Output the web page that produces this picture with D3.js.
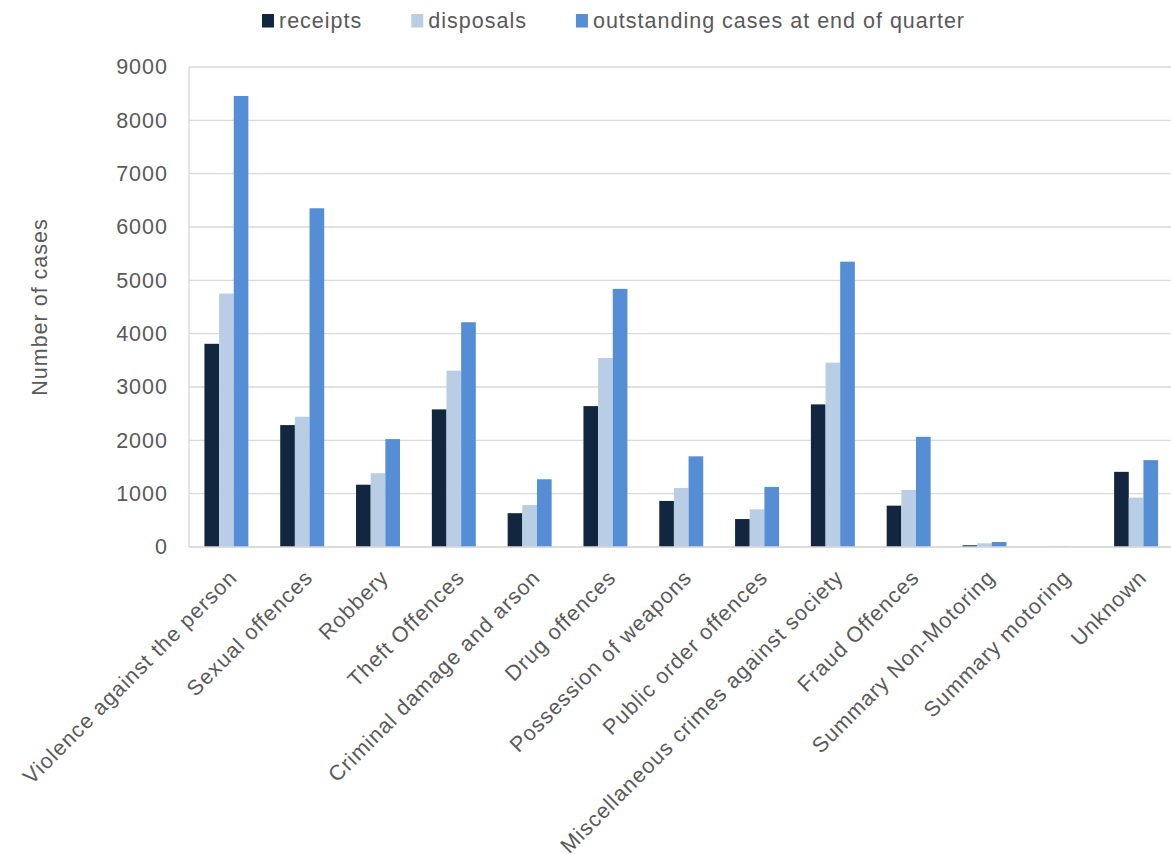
<!DOCTYPE html>
<html>
<head>
<meta charset="utf-8">
<script src="https://cdn.jsdelivr.net/npm/d3@7"></script>
<style>
  html, body { margin: 0; padding: 0; background: #fff; }
  svg { display: block; }
  text { font-family: "Liberation Sans", Arial, sans-serif; fill: #595959; letter-spacing: 1px; }
</style>
</head>
<body>
<svg id="chart" width="1171" height="854"></svg>
<script>
const categories = [
  "Violence against the person", "Sexual offences", "Robbery", "Theft Offences",
  "Criminal damage and arson", "Drug offences", "Possession of weapons",
  "Public order offences", "Miscellaneous crimes against society", "Fraud Offences",
  "Summary Non-Motoring", "Summary motoring", "Unknown"
];
const seriesNames = ["receipts", "disposals", "outstanding cases at end of quarter"];
const receipts    = [3810, 2286, 1168, 2580, 634, 2642, 864, 524, 2674, 775, 32, 0, 1409];
const disposals   = [4752, 2442, 1384, 3306, 787, 3544, 1107, 706, 3456, 1070, 70, 15, 926];
const outstanding = [8457, 6351, 2023, 4214, 1270, 4840, 1700, 1126, 5350, 2066, 94, 0, 1629];
const yTicks = [0, 1000, 2000, 3000, 4000, 5000, 6000, 7000, 8000, 9000];
const colors = ["#12263F", "#B9CDE5", "#558ED5"];
const yTitle = "Number of cases";

const series = [receipts, disposals, outstanding];
const svg = d3.select("#chart");
const fontSize = 21.5;

const x0 = d3.scaleBand().domain(categories).range([188.5, 1174]).paddingInner(0.42).paddingOuter(0.21);
const x1 = d3.scaleBand().domain(d3.range(series.length)).range([0, x0.bandwidth()]);
const y = d3.scaleLinear().domain([0, 9000]).range([547, 67]);

// gridlines
svg.append("g").selectAll("line").data(yTicks).join("line")
  .attr("x1", 189).attr("x2", 1171)
  .attr("y1", d => y(d)).attr("y2", d => y(d))
  .attr("stroke", "#D9D9D9").attr("stroke-width", 1.4);
// vertical axis line
svg.append("line").attr("x1", 189).attr("x2", 189).attr("y1", y(9000)).attr("y2", y(0))
  .attr("stroke", "#D9D9D9").attr("stroke-width", 1.4);

// bars
const groups = svg.append("g").selectAll("g").data(categories).join("g")
  .attr("transform", d => `translate(${x0(d)},0)`);
groups.selectAll("rect").data((d, i) => series.map((s, k) => ({k, v: s[i]}))).join("rect")
  .attr("x", d => x1(d.k)).attr("width", x1.bandwidth())
  .attr("y", d => y(d.v)).attr("height", d => y(0) - y(d.v))
  .attr("fill", d => colors[d.k]);

// baseline over bars
svg.append("line").attr("x1", 189).attr("x2", 1171).attr("y1", y(0)).attr("y2", y(0))
  .attr("stroke", "#D9D9D9").attr("stroke-width", 1.4);

// y tick labels
const yAxis = d3.axisLeft(y).tickValues(yTicks).tickSize(0).tickPadding(0).tickFormat(d3.format("d"));
const ya = svg.append("g").attr("transform", "translate(168,0)").call(yAxis);
ya.select(".domain").remove();
ya.selectAll("text").style("font-size", fontSize + "px").attr("fill", "#595959")
  .style("font-family", '"Liberation Sans", Arial, sans-serif');

// y title
svg.append("text").attr("transform", "translate(39,307) rotate(-90)")
  .attr("text-anchor", "middle").attr("dy", "0.35em")
  .style("font-size", fontSize + "px").text(yTitle);

// x labels
svg.append("g").selectAll("text").data(categories).join("text")
  .attr("transform", d => `translate(${x0(d) + x0.bandwidth() / 2 + 4},571) rotate(-45)`)
  .attr("text-anchor", "end").attr("dy", "0.52em")
  .style("font-size", fontSize + "px").text(d => d);

// legend
const legend = svg.append("g");
let lx = 262;
seriesNames.forEach((name, k) => {
  legend.append("rect").attr("x", lx).attr("y", 14).attr("width", 12).attr("height", 13.5).attr("fill", colors[k]);
  const t = legend.append("text").attr("x", lx + 17).attr("y", 28.3)
    .style("font-size", fontSize + "px").text(name);
  lx += 17 + t.node().getComputedTextLength() + 49;
});
</script>
</body>
</html>
